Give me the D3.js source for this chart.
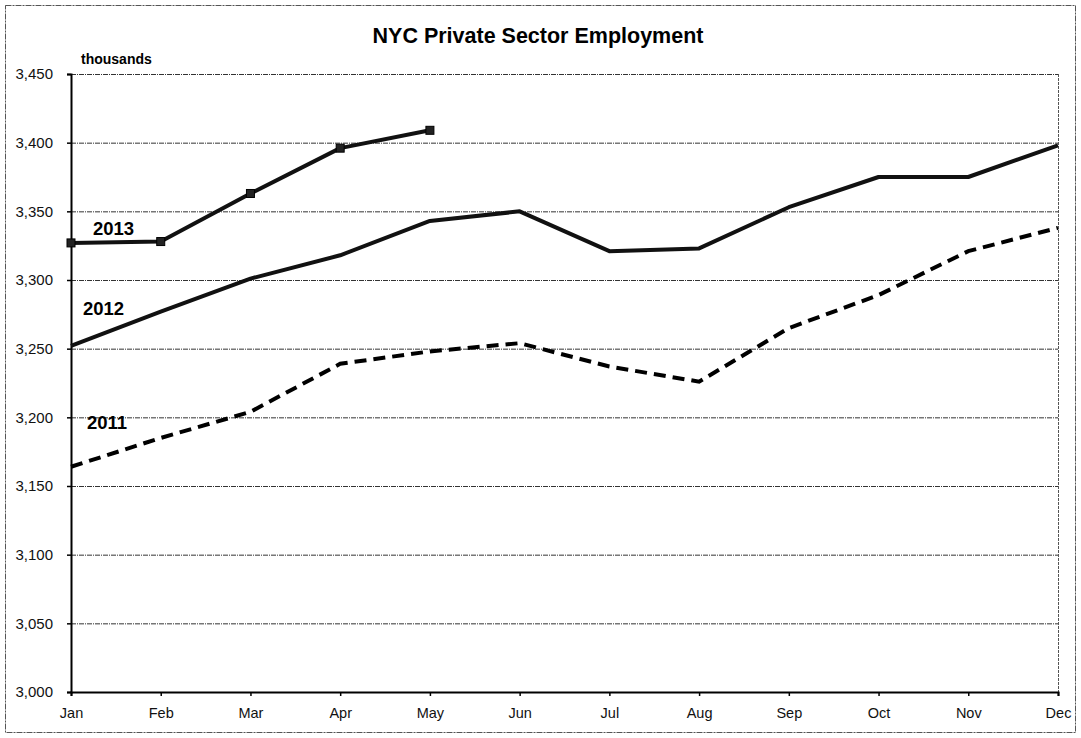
<!DOCTYPE html>
<html><head><meta charset="utf-8">
<script src="https://cdn.jsdelivr.net/npm/d3@7/dist/d3.min.js"></script>
<style>body{margin:0;background:#fff}svg{display:block;font-family:Arial,"Liberation Sans",sans-serif}</style>
</head><body><svg id="c" width="1081" height="738"></svg>
<script>
const months = ["Jan","Feb","Mar","Apr","May","Jun","Jul","Aug","Sep","Oct","Nov","Dec"];
const yTicks = [3000,3050,3100,3150,3200,3250,3300,3350,3400,3450];
const s2011 = [3164,3185,3204,3239,3248,3254,3237,3226,3265,3289,3321,3338];
const s2012 = [3252,3277,3301,3318,3343,3350,3321,3323,3353,3375,3375,3398];
const s2013 = [3327,3328,3363,3396,3409];
const seriesNames = ["2011","2012","2013"];

const svg = d3.select("#c");
const x = d3.scalePoint().domain(months).range([71,1058]);
const y = d3.scaleLinear().domain([3000,3450]).range([692,74]);

// outer border
svg.append("rect").attr("x",5.5).attr("y",5.5).attr("width",1070).attr("height",727)
  .attr("fill","none").attr("stroke","#555").attr("stroke-width",1).attr("stroke-dasharray","6,1,2,1");

// gridlines
svg.append("g").selectAll("line").data(yTicks.slice(1)).join("line")
  .attr("x1",71).attr("x2",1058).attr("y1",d=>y(d)+0.5).attr("y2",d=>y(d)+0.5)
  .attr("stroke","#333").attr("stroke-width",1).attr("stroke-dasharray","5,1,1,1");
// right border of plot
svg.append("line").attr("x1",1058.5).attr("x2",1058.5).attr("y1",y(3450)).attr("y2",y(3000))
  .attr("stroke","#555").attr("stroke-dasharray","3,1");

// axes
const yAxis = d3.axisLeft(y).tickValues(yTicks).tickFormat(d3.format(",")).tickSize(4).tickPadding(14);
const gy = svg.append("g").attr("transform","translate(71,0)").call(yAxis);
gy.select(".domain").attr("stroke","#000").attr("stroke-width",2);
gy.selectAll(".tick line").attr("stroke","#000").attr("stroke-width",1.5);
gy.selectAll("text").attr("font-size",15).attr("fill","#111").attr("font-family","Arial");

const xAxis = d3.axisBottom(x).tickSize(4).tickPadding(12);
const gx = svg.append("g").attr("transform","translate(0,692)").call(xAxis);
gx.select(".domain").attr("stroke","#000").attr("stroke-width",2);
gx.selectAll(".tick line").attr("stroke","#000").attr("stroke-width",1.5);
gx.selectAll("text").attr("font-size",14.5).attr("fill","#111").attr("font-family","Arial");

// lines
const line = d3.line().x((d,i)=>x(months[i])).y(d=>y(d));
svg.append("path").datum(s2011).attr("d",line).attr("fill","none").attr("stroke","#000")
  .attr("stroke-width",4).attr("stroke-dasharray","12,7");
svg.append("path").datum(s2012).attr("d",line).attr("fill","none").attr("stroke","#111")
  .attr("stroke-width",4).attr("stroke-linejoin","round");
svg.append("path").datum(s2013).attr("d",line).attr("fill","none").attr("stroke","#111")
  .attr("stroke-width",4).attr("stroke-linejoin","round");
svg.append("g").selectAll("rect").data(s2013).join("rect")
  .attr("x",(d,i)=>x(months[i])-4).attr("y",d=>y(d)-4).attr("width",8).attr("height",8)
  .attr("fill","#222").attr("stroke","#000");

// labels
svg.append("text").attr("x",538).attr("y",43).attr("text-anchor","middle")
  .attr("font-size",21.5).attr("font-weight","bold").text("NYC Private Sector Employment");
svg.append("text").attr("x",81).attr("y",64).attr("font-size",14).attr("font-weight","bold").text("thousands");
const lab = [{t:seriesNames[2],b:235,x:93},{t:seriesNames[1],b:315,x:83},{t:seriesNames[0],b:429,x:87}];
svg.append("g").selectAll("text").data(lab).join("text")
  .attr("x",d=>d.x).attr("y",d=>d.b).attr("font-size",18.5).attr("font-weight","bold").text(d=>d.t);
</script></body></html>
